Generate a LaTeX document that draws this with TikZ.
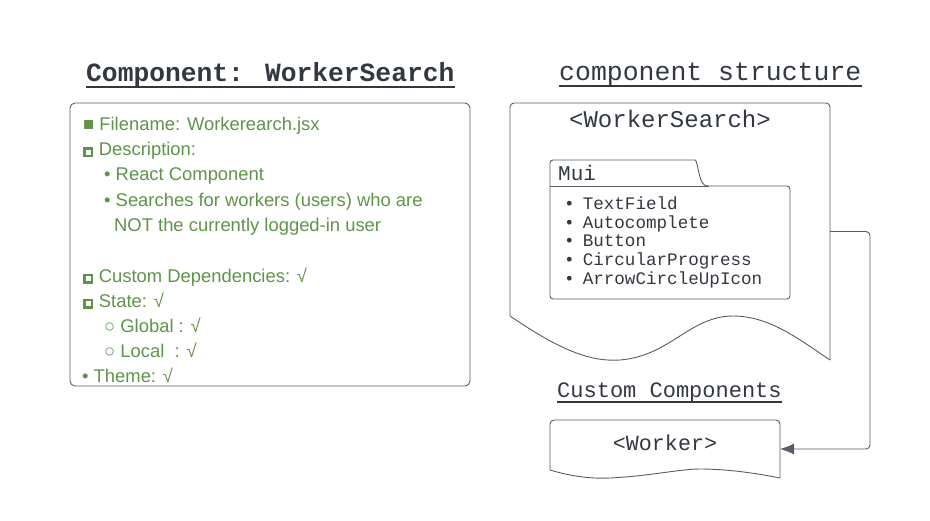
\documentclass[tikz,border=0pt]{standalone}
\usepackage{fontspec}
\setmainfont{Liberation Sans}
\newfontfamily\codefont{Liberation Mono}
\usetikzlibrary{arrows.meta}
\definecolor{leafgreen}{RGB}{94,147,73}
\definecolor{inkgray}{RGB}{50,55,64}
\definecolor{linegray}{RGB}{88,92,100}
\newcommand\hollowsq{\raisebox{0.8pt}{\setlength\fboxrule{2.5pt}\setlength\fboxsep{0pt}\fbox{\rule{5pt}{0pt}\rule{0pt}{5pt}}}\hspace{0.6pt}}
\begin{document}
\begin{tikzpicture}
    [
    x=1pt, y=-1pt,
    outline/.style={draw=linegray, line width=0.9pt},
    frame/.style={inner sep=0pt, outer sep=0pt},
    heading/.style={inner sep=0pt, anchor=base west, text=inkgray, font=\codefont\fontsize{26.5}{30}\selectfont},
    item/.style={inner sep=0pt, anchor=base west, text=leafgreen, font=\fontsize{18.4}{21}\selectfont},
    code/.style={inner sep=0pt, anchor=base west, text=inkgray, font=\codefont\fontsize{17.6}{20}\selectfont}
    ]
    \useasboundingbox (0,0) rectangle (930,520);

    % left side
    \node (title) at (86,81) [heading, font=\codefont\bfseries\fontsize{26.3}{30}\selectfont] {Component: WorkerSearch};
    \draw [inkgray, line width=1.4pt] ([yshift=-6pt]title.base west) -- ([yshift=-6pt]title.base east);
    \node (info) at (270,244.5) [frame, outline, rounded corners=5pt, minimum width=400pt, minimum height=283pt] {};
    \node (fname) at (83,130) [item] {■ Filename: Workerearch.jsx};
    \node (desc) at (83,155.5) [item] {\hollowsq\ Description:};
    \node (react) at (104,180.5) [item] {• React Component};
    \node (search) at (104,206) [item] {• Searches for workers (users) who are};
    \node (searchb) at (114,231) [item] {NOT the currently logged-in user};
    \node (deps) at (83,282) [item] {\hollowsq\ Custom Dependencies: √};
    \node (state) at (83,307) [item] {\hollowsq\ State: √};
    \node (global) at (104,332.5) [item] {○ Global : √};
    \node (local) at (104,357.5) [item] {○ Local~~: √};
    \node (theme) at (82,382.5) [item] {• Theme: √};

    % right side
    \node (struct) at (559,80) [heading] {component structure};
    \draw [inkgray, line width=1.2pt] ([yshift=-6pt]struct.base west) -- ([yshift=-6pt]struct.base east);
    \node (wsdoc) at (670,231.5) [frame, minimum width=320pt, minimum height=257pt] {};
    \draw [outline, rounded corners=4pt] (510,316) -- (510,103) -- (830,103) -- (830,360);
    \draw [outline] (510,316) .. controls (560,350) and (590,362) .. (620,360)
      .. controls (670,356) and (690,316) .. (733,316)
      .. controls (770,316) and (800,340) .. (830,360);
    \node (wsname) at (670,127) [code, anchor=base, font=\codefont\fontsize{24}{28}\selectfont] {<WorkerSearch>};

    \draw [outline] (550,186) [rounded corners=3pt] -- (550,160) -- (692,160) [sharp corners]
      .. controls (697,160) and (698,172) .. (701,180)
      .. controls (703,185) and (705,186) .. (709,186) [rounded corners=3pt]
      -- (790,186) -- (790,299) -- (550,299) -- cycle;
    \draw [outline] (550,186) -- (709,186);
    \node (mui) at (558,180) [code, font=\codefont\fontsize{21}{24}\selectfont] {Mui};
    \foreach \part [count=\i] in {TextField, Autocomplete, Button, CircularProgress, ArrowCircleUpIcon}
      \node (mui\i) at (564,190.8+18.7*\i) [code] {•\hspace{8pt}\part};

    \node (custom) at (557,397) [heading, font=\codefont\fontsize{22}{26}\selectfont] {Custom Components};
    \draw [inkgray, line width=1.1pt] ([yshift=-5pt]custom.base west) -- ([yshift=-5pt]custom.base east);
    \node (worker) at (665,449) [frame, minimum width=230pt, minimum height=58pt] {};
    \draw [outline, rounded corners=4pt] (550,470) -- (550,420) -- (780,420) -- (780,478);
    \draw [outline] (550,470) .. controls (570,476) and (590,479) .. (610,478)
      .. controls (650,476) and (680,469) .. (700,469)
      .. controls (730,469) and (760,474) .. (780,478);
    \node (wkname) at (665,450) [code, anchor=base, font=\codefont\fontsize{21.7}{26}\selectfont] {<Worker>};

    \draw [outline, rounded corners=4pt, -{Latex[length=14pt,width=11pt]}] (wsdoc.east) -- ++(40,0) |- (worker.east);
  \end{tikzpicture}
\end{document}
